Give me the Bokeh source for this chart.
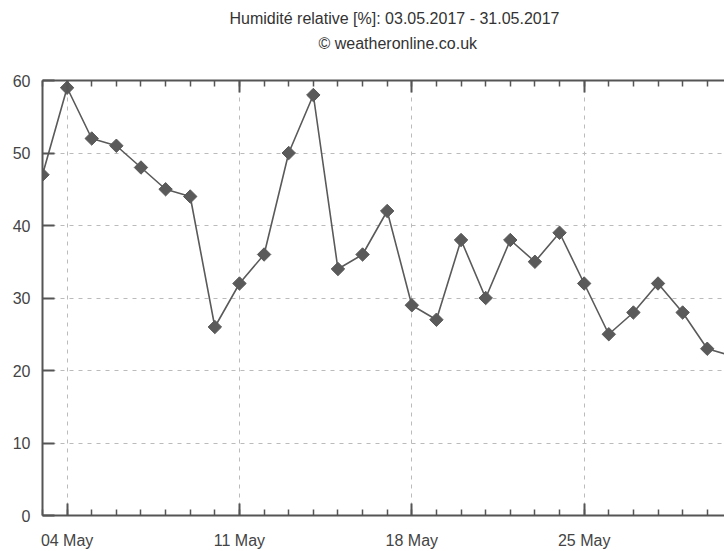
import math
import pandas as pd
from bokeh.plotting import figure
from bokeh.models import (Range1d, DatetimeAxis, FixedTicker, DatetimeTickFormatter,
                          Title, SingleIntervalTicker, CustomJSTickFormatter)
from bokeh.embed import file_html
from bokeh.resources import INLINE

# --- data ---
dates = ["2017-05-03", "2017-05-04", "2017-05-05", "2017-05-06", "2017-05-07",
         "2017-05-08", "2017-05-09", "2017-05-10", "2017-05-11", "2017-05-12",
         "2017-05-13", "2017-05-14", "2017-05-15", "2017-05-16", "2017-05-17",
         "2017-05-18", "2017-05-19", "2017-05-20", "2017-05-21", "2017-05-22",
         "2017-05-23", "2017-05-24", "2017-05-25", "2017-05-26", "2017-05-27",
         "2017-05-28", "2017-05-29", "2017-05-30", "2017-05-31"]
humidity = [47, 59, 52, 51, 48, 45, 44, 26, 32, 36, 50, 58, 34, 36, 42, 29, 27,
            38, 30, 38, 35, 39, 32, 25, 28, 32, 28, 23, 22]
major_dates = ["2017-05-04", "2017-05-11", "2017-05-18", "2017-05-25"]
title_line1 = "Humidité relative [%]: 03.05.2017 - 31.05.2017"
title_line2 = "© weatheronline.co.uk"

x = pd.to_datetime(dates)
ms = lambda d: pd.Timestamp(d).value / 1e6
major_ms = [ms(d) for d in major_dates]
minor_ms = [ms(d) for d in dates]

FONT = "Liberation Sans"
AX = "#555555"

x_start = pd.Timestamp("2017-05-03")
x_end = x_start + pd.Timedelta(days=27.70)

p = figure(width=724, height=551, output_backend="svg", toolbar_location=None,
           x_axis_type="datetime", x_range=Range1d(x_start, x_end),
           y_range=Range1d(0, 60), min_border_left=42, min_border_right=0,
           min_border_top=80, min_border_bottom=34, title=None)
p.outline_line_color = None
p.background_fill_color = "white"

ticker = FixedTicker(ticks=major_ms, minor_ticks=minor_ms)

# bottom axis
xa = p.xaxis[0]
xa.ticker = ticker
xa.formatter = DatetimeTickFormatter(days="%d %b", months="%d %b")
xa.axis_line_color = AX
xa.axis_line_width = 2
xa.major_tick_in = 12
xa.major_tick_out = 0
xa.minor_tick_in = 6
xa.minor_tick_out = 0
xa.major_tick_line_color = AX
xa.minor_tick_line_color = AX
xa.major_tick_line_width = 2
xa.minor_tick_line_width = 1.5
xa.major_label_standoff = 16
xa.major_label_text_font = FONT
xa.major_label_text_font_size = "16px"
xa.major_label_text_color = "#444444"

# left axis
ya = p.yaxis[0]
ya.ticker = SingleIntervalTicker(interval=10, num_minor_ticks=0)
ya.axis_line_color = AX
ya.axis_line_width = 2
ya.major_tick_in = 12
ya.major_tick_out = 0
ya.minor_tick_line_color = None
ya.major_tick_line_color = AX
ya.major_tick_line_width = 2
ya.major_label_standoff = 12
ya.major_label_text_font = FONT
ya.major_label_text_font_size = "16px"
ya.major_label_text_color = "#444444"

# top axis (ticks only)
top = DatetimeAxis(ticker=ticker, formatter=CustomJSTickFormatter(code="return ''"))
top.axis_line_color = AX
top.axis_line_width = 2
top.major_tick_in = 12
top.major_tick_out = 0
top.minor_tick_in = 6
top.minor_tick_out = 0
top.major_tick_line_color = AX
top.minor_tick_line_color = AX
top.major_tick_line_width = 2
top.minor_tick_line_width = 1.5
top.major_label_standoff = 0
p.add_layout(top, "above")

# titles
p.add_layout(Title(text=title_line2, align="left", offset=276, text_font=FONT,
                   text_font_size="16px", text_font_style="normal",
                   text_color="#333333", standoff=58), "above")
p.add_layout(Title(text=title_line1, align="left", offset=187, text_font=FONT,
                   text_font_size="16px", text_font_style="normal",
                   text_color="#333333", standoff=-46), "above")

# grids
p.xgrid.ticker = ticker
p.xgrid.grid_line_color = "#bbbbbb"
p.xgrid.grid_line_dash = "4 5"
p.ygrid.grid_line_color = "#bbbbbb"
p.ygrid.grid_line_dash = "4 5"

# series
p.line(x, humidity, line_color="#5a5a5a", line_width=1.6)
p.scatter(x, humidity, marker="square", size=9.5, angle=math.pi / 4,
          fill_color="#5a5a5a", line_color="#5a5a5a")

open("out.html", "w").write(file_html(p, INLINE))
